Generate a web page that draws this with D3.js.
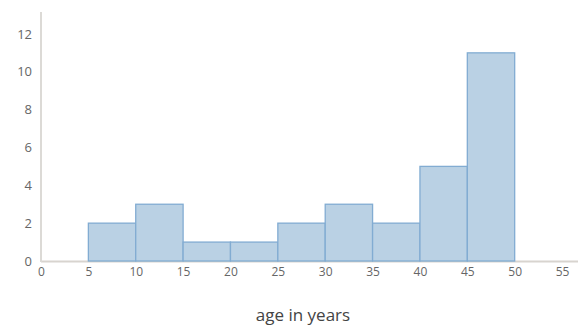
<!DOCTYPE html>
<html><head><meta charset="utf-8">
<script src="https://cdn.jsdelivr.net/npm/d3@7"></script>
<style>body{margin:0;background:#fff}svg{display:block}</style>
</head><body>
<svg id="c" width="578" height="329"></svg>
<script>
const binStarts = [5, 10, 15, 20, 25, 30, 35, 40, 45];
const binWidth = 5;
const counts = [2, 3, 1, 1, 2, 3, 2, 5, 11];
const xTicks = [0, 5, 10, 15, 20, 25, 30, 35, 40, 45, 50, 55];
const yTicks = [0, 2, 4, 6, 8, 10, 12];
const xTitle = "age in years";

const svg = d3.select("#c");
const x = d3.scaleLinear().domain([0, 57]).range([41, 581]);
const y = d3.scaleLinear().domain([0, 13]).range([261, 15]);
const font = "'Open Sans', sans-serif";

svg.append("line").attr("x1", x(0)).attr("x2", 578).attr("y1", y(0)+0.5).attr("y2", y(0)+0.5)
  .attr("stroke", "#d8d4cf").attr("stroke-width", 2);
svg.append("line").attr("x1", x(0)).attr("x2", x(0)).attr("y1", 12).attr("y2", y(0)+1)
  .attr("stroke", "#dcdad6").attr("stroke-width", 2);

svg.append("g").selectAll("rect").data(binStarts).join("rect")
  .attr("x", d => x(d))
  .attr("width", d => x(d + binWidth) - x(d))
  .attr("y", (d, i) => y(counts[i]))
  .attr("height", (d, i) => y(0) - y(counts[i]))
  .attr("fill", "#bad1e4")
  .attr("stroke", "#82acd2")
  .attr("stroke-width", 1.3);

const xAxis = d3.axisBottom(x).tickValues(xTicks).tickSize(0).tickPadding(6);
const gx = svg.append("g").attr("transform", `translate(0,${y(0)})`).call(xAxis);
gx.select(".domain").remove();
gx.selectAll("text").attr("fill", "#666").style("font-family", font).style("font-size", "12px");

const yAxis = d3.axisLeft(y).tickValues(yTicks).tickSize(0).tickPadding(9);
const gy = svg.append("g").attr("transform", `translate(${x(0)},0)`).call(yAxis);
gy.select(".domain").remove();
gy.selectAll("text").attr("fill", "#666").style("font-family", font).style("font-size", "13px");

svg.append("text").attr("x", 303).attr("y", 321).attr("text-anchor", "middle")
  .attr("fill", "#444").style("font-family", font).style("font-size", "17px").text(xTitle);
</script>
</body></html>
